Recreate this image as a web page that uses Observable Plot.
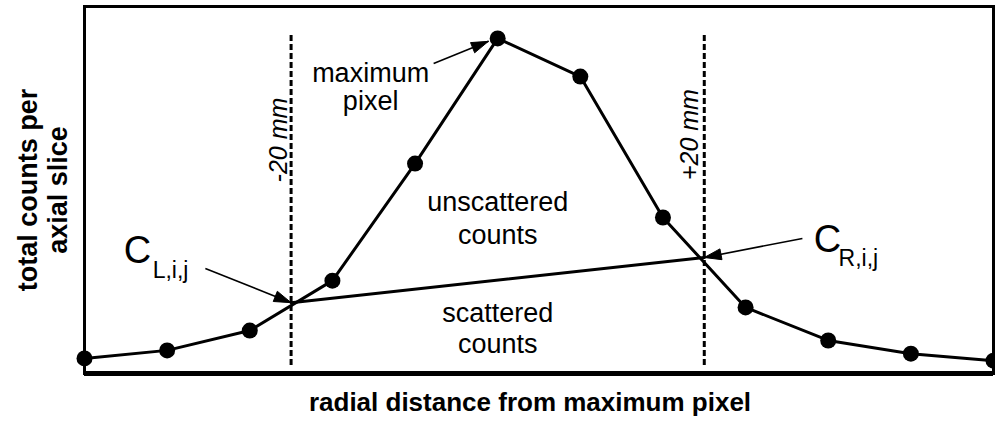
<!DOCTYPE html>
<html>
<head>
<meta charset="utf-8">
<script src="https://cdn.jsdelivr.net/npm/d3@7"></script>
<script src="https://cdn.jsdelivr.net/npm/@observablehq/plot@0.6"></script>
<style>
  html, body { margin: 0; padding: 0; background: #fff; }
</style>
</head>
<body>
<div id="chart"></div>
<script>
// ---- data ----
const distanceMm = [-40, -32, -24, -16, -8, 0, 8, 16, 24, 32, 40, 48];
const totalCounts = [4.1, 6.3, 11.7, 25.3, 57.2, 91.3, 80.9, 42.5, 18.0, 9.0, 5.4, 3.5];

const boundaryMm = [-20, 20];
const boundaryCounts = [19.3, 31.6];   // C_L,i,j and C_R,i,j

const xTitle = "radial distance from maximum pixel";
const yTitle = "total counts per\naxial slice";

// ---- tables built from the arrays ----
const profile = distanceMm.map((d, i) => ({x: d, y: totalCounts[i]}));
const boundaries = boundaryMm.map((d, i) => ({x: d, y: boundaryCounts[i]}));

const W = 995, H = 430;
const mL = 84, mR = 2, mT = 6, mB = 57;
const xDomain = [-40, 48], yDomain = [0, 100];
const xs = d3.scaleLinear(xDomain, [mL, W - mR]);
const ys = d3.scaleLinear(yDomain, [H - mB, mT]);

// annotation arrows (tail -> tip)
const arrows = [
  {x1: -28.3, y1: 28.6, x2: boundaryMm[0], y2: boundaryCounts[0]},
  {x1: 29.5, y1: 36.8, x2: boundaryMm[1], y2: boundaryCounts[1]},
  {x1: -6.2, y1: 84.5, x2: -0.9, y2: 90.5}
];
function headPolygon(a, i) {
  const tx = xs(a.x2), ty = ys(a.y2), fx = xs(a.x1), fy = ys(a.y1);
  const L = Math.hypot(tx - fx, ty - fy);
  const ux = (tx - fx) / L, uy = (ty - fy) / L;
  const len = 17, hw = 5.5;
  const bx = tx - ux * len, by = ty - uy * len;
  return [[tx, ty], [bx - uy * hw, by + ux * hw], [bx + uy * hw, by - ux * hw], [tx, ty]]
    .map(([px, py]) => ({id: i, x: xs.invert(px), y: ys.invert(py)}));
}
const heads = arrows.flatMap(headPolygon);

const font = "'Liberation Sans', Arial, Helvetica, sans-serif";

const chart = Plot.plot({
  width: W,
  height: H,
  marginLeft: mL,
  marginRight: mR,
  marginTop: mT,
  marginBottom: mB,
  x: {domain: xDomain, axis: null},
  y: {domain: yDomain, axis: null},
  style: {fontFamily: font, background: "#fff", color: "#000", overflow: "visible"},
  marks: [
    Plot.frame({stroke: "#000", strokeWidth: 3}),
    Plot.ruleY([0], {stroke: "#000", strokeWidth: 5}),
    Plot.ruleX(boundaryMm, {y1: 2.2, y2: 92.6, stroke: "#000", strokeWidth: 3, strokeDasharray: "6,3"}),
    Plot.line(boundaries, {x: "x", y: "y", stroke: "#000", strokeWidth: 3}),
    Plot.line(profile, {x: "x", y: "y", stroke: "#000", strokeWidth: 3}),
    Plot.dot(profile, {x: "x", y: "y", r: 8, fill: "#000", stroke: "none"}),
    Plot.link(arrows, {x1: "x1", y1: "y1", x2: "x2", y2: "y2", stroke: "#000", strokeWidth: 1.6}),
    Plot.line(heads, {x: "x", y: "y", z: "id", fill: "#000", stroke: "#000", strokeWidth: 1}),
    // dashed line labels
    Plot.text(["-20 mm"], {x: boundaryMm[0], y: 63.6, dx: -12, text: d => d, rotate: -90,
      fontSize: 25, fontStyle: "italic", textAnchor: "middle", lineAnchor: "middle", fill: "#000"}),
    Plot.text(["+20 mm"], {x: boundaryMm[1], y: 65.1, dx: -14, text: d => d, rotate: -90,
      fontSize: 25, fontStyle: "italic", textAnchor: "middle", lineAnchor: "middle", fill: "#000"}),
    // region annotations
    Plot.text(["maximum\npixel"], {x: -12.3, y: 71.7, text: d => d, fontSize: 27, lineHeight: 1.04,
      textAnchor: "middle", lineAnchor: "bottom", fill: "#000"}),
    Plot.text(["unscattered\ncounts"], {x: 0, y: 35.4, text: d => d, fontSize: 27, lineHeight: 1.22,
      textAnchor: "middle", lineAnchor: "bottom", fill: "#000"}),
    Plot.text(["scattered\ncounts"], {x: 0, y: 5.45, text: d => d, fontSize: 27, lineHeight: 1.15,
      textAnchor: "middle", lineAnchor: "bottom", fill: "#000"}),
    // C labels
    Plot.text(["C"], {x: -36.2, y: 30.2, text: d => d, fontSize: 38, textAnchor: "start", lineAnchor: "bottom", fill: "#000"}),
    Plot.text(["L,i,j"], {x: -33.4, y: 26.0, text: d => d, fontSize: 23, textAnchor: "start", lineAnchor: "bottom", fill: "#000"}),
    Plot.text(["C"], {x: 30.6, y: 33.2, text: d => d, fontSize: 38, textAnchor: "start", lineAnchor: "bottom", fill: "#000"}),
    Plot.text(["R,i,j"], {x: 33.0, y: 29.2, text: d => d, fontSize: 23, textAnchor: "start", lineAnchor: "bottom", fill: "#000"}),
    // axis titles
    Plot.text([xTitle], {frameAnchor: "bottom", dx: -9, dy: 37, text: d => d, fontSize: 26, fontWeight: "bold",
      textAnchor: "middle", lineAnchor: "bottom", fill: "#000"}),
    Plot.text([yTitle], {frameAnchor: "left", dx: -42, text: d => d, rotate: -90, fontSize: 27, fontWeight: "bold",
      lineHeight: 1.11, textAnchor: "middle", lineAnchor: "middle", fill: "#000"})
  ]
});
document.getElementById("chart").append(chart);
</script>
</body>
</html>
